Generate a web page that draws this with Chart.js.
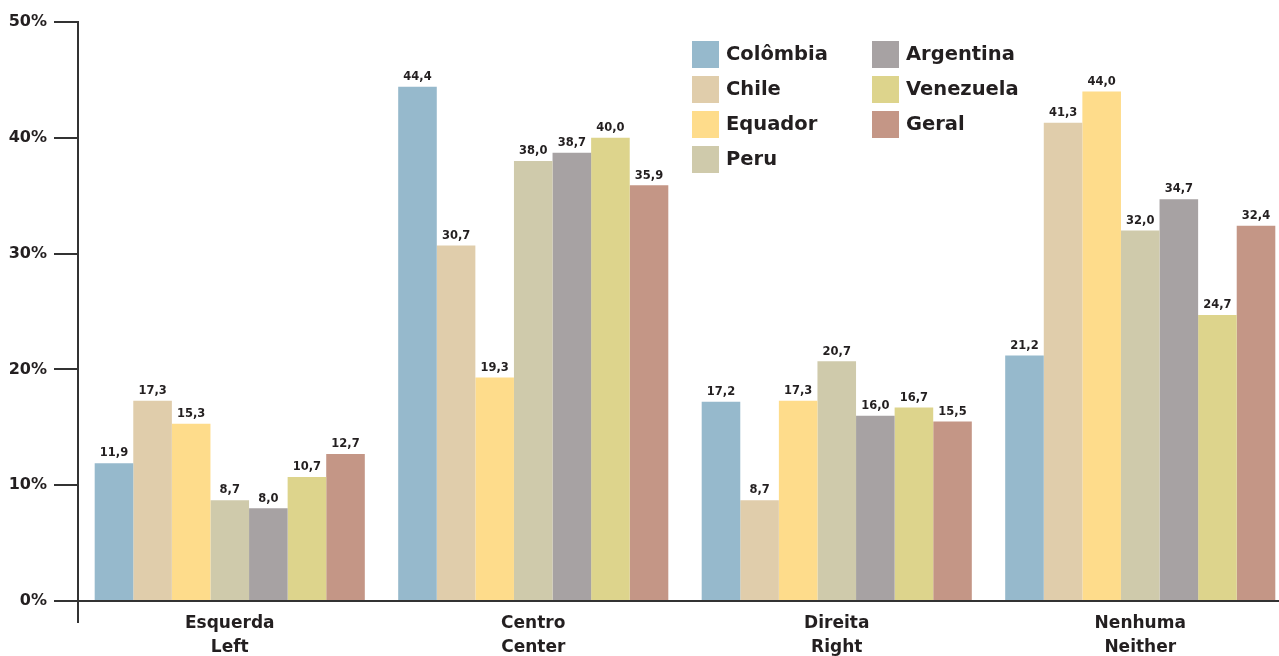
<!DOCTYPE html>
<html>
<head>
<meta charset="utf-8">
<script src="https://cdn.jsdelivr.net/npm/chart.js@4.4.1/dist/chart.umd.min.js"></script>
<style>
  html, body { margin:0; padding:0; background:#fff; overflow:hidden; }
  #wrap { position:relative; width:1300px; height:656px; }
</style>
</head>
<body>
<div id="wrap"><canvas id="chart"></canvas></div>
<script>
// data
const categories = [['Esquerda','Left'], ['Centro','Center'], ['Direita','Right'], ['Nenhuma','Neither']]
const seriesNames = ['Colômbia','Chile','Equador','Peru','Argentina','Venezuela','Geral']
const colombia  = [11.9, 44.4, 17.2, 21.2]
const chile     = [17.3, 30.7, 8.7, 41.3]
const equador   = [15.3, 19.3, 17.3, 44.0]
const peru      = [8.7, 38.0, 20.7, 32.0]
const argentina = [8.0, 38.7, 16.0, 34.7]
const venezuela = [10.7, 40.0, 16.7, 24.7]
const geral     = [12.7, 35.9, 15.5, 32.4]
const yTicks = [0, 10, 20, 30, 40, 50]

const colors = ['#96b9cc','#e0cdab','#fedc8b','#cfcaab','#a7a2a3','#ddd48c','#c49686']
const seriesData = [colombia, chile, equador, peru, argentina, venezuela, geral]

const FONT = '"DejaVu Sans", sans-serif'
const INK = '#231f20'

// bar value labels, comma decimal
const valueLabels = {
  id: 'valueLabels',
  afterDatasetsDraw(chart) {
    const ctx = chart.ctx
    ctx.save()
    ctx.fillStyle = INK
    ctx.font = 'bold 11.5px ' + FONT
    ctx.textAlign = 'center'
    ctx.textBaseline = 'bottom'
    chart.data.datasets.forEach((ds, i) => {
      chart.getDatasetMeta(i).data.forEach((bar, j) => {
        ctx.fillText(ds.data[j].toFixed(1).replace('.', ','), bar.x, bar.y - 4)
      })
    })
    ctx.restore()
  }
}

// legend in two columns, drawn on canvas
const sideLegend = {
  id: 'sideLegend',
  afterDraw(chart) {
    const ctx = chart.ctx
    ctx.save()
    ctx.font = 'bold 19.5px ' + FONT
    ctx.textBaseline = 'middle'
    ctx.textAlign = 'left'
    chart.data.datasets.forEach((ds, i) => {
      const col = i < 4 ? 0 : 1
      const row = i < 4 ? i : i - 4
      const x = col === 0 ? 692 : 872
      const y = 54 + row * 35
      ctx.fillStyle = ds.backgroundColor
      ctx.fillRect(x, y - 13, 27, 27)
      ctx.fillStyle = INK
      ctx.fillText(ds.label, x + 34, y + 1)
    })
    ctx.restore()
  }
}

// y axis line runs a bit below the x axis
const axisTail = {
  id: 'axisTail',
  afterDraw(chart) {
    const ctx = chart.ctx
    const a = chart.chartArea
    ctx.save()
    ctx.strokeStyle = '#333'
    ctx.lineWidth = 2
    ctx.beginPath()
    ctx.moveTo(a.left, a.bottom)
    ctx.lineTo(a.left, a.bottom + 22)
    ctx.stroke()
    ctx.restore()
  }
}

new Chart(document.getElementById('chart'), {
  type: 'bar',
  data: {
    labels: categories,
    datasets: seriesNames.map((n, i) => ({
      label: n,
      data: seriesData[i],
      backgroundColor: colors[i],
      borderWidth: 0,
      categoryPercentage: 0.89,
      barPercentage: 1.0
    }))
  },
  options: {
    responsive: true,
    maintainAspectRatio: false,
    animation: false,
    layout: { padding: { top: 22, right: 8, left: 0, bottom: 0 } },
    plugins: { legend: { display: false }, tooltip: { enabled: false } },
    scales: {
      x: {
        grid: { display: false, drawTicks: false },
        border: { color: '#333', width: 2 },
        ticks: { color: INK, font: { family: FONT, size: 17, weight: 'bold', lineHeight: 1.4 }, padding: 11 },
        afterFit(s) { s.height = 55 }
      },
      y: {
        min: 0, max: 50,
        afterBuildTicks(s) { s.ticks = yTicks.map(v => ({ value: v })) },
        grid: { drawOnChartArea: false, drawTicks: true, tickLength: 24, color: '#333', lineWidth: 2 },
        border: { color: '#333', width: 2 },
        ticks: { color: INK, font: { family: FONT, size: 16, weight: 'bold' }, padding: 7,
          callback: v => v + '%' },
        afterFit(s) { s.width = 78 }
      }
    }
  },
  plugins: [valueLabels, sideLegend, axisTail]
})
</script>
</body>
</html>
